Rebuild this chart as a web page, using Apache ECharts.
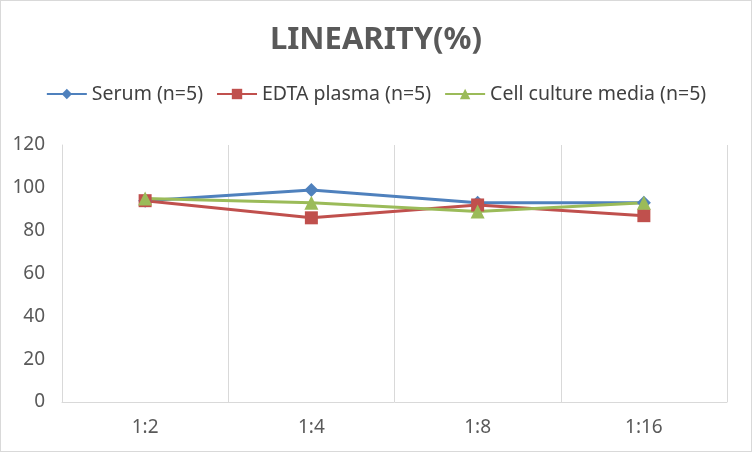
<!DOCTYPE html>
<html><head><meta charset="utf-8">
<script src="https://cdn.jsdelivr.net/npm/echarts@6/dist/echarts.min.js"></script>
<style>html,body{margin:0;padding:0;background:#fff}#c{width:750px;height:450px;border:1px solid #d9d9d9}</style>
</head><body><div id="c"></div>
<script>
var categories = ['1:2', '1:4', '1:8', '1:16'];
var serum = [94, 99, 93, 93];
var edta = [94, 86, 92, 87];
var cellMedia = [95, 93, 89, 93];
var seriesNames = ['Serum (n=5)', 'EDTA plasma (n=5)', 'Cell culture media (n=5)'];
var yTicks = {min: 0, max: 120, interval: 20};

var chart = echarts.init(document.getElementById('c'));
var font = 'Noto Sans';
function mk(name, data, color, symbol, size) {
  return {name: name, type: 'line', data: data, symbol: symbol, symbolSize: size,
    lineStyle: {color: color, width: 3}, itemStyle: {color: color}, z: 3};
}
chart.setOption({
  animation: false,
  title: {text: 'LINEARITY(%)', left: 'center', top: 19,
    textStyle: {fontFamily: font, fontSize: 31, fontWeight: 'bold', color: '#595959'}},
  legend: {top: 78, left: 'center', itemWidth: 40, itemHeight: 13, itemGap: 13,
    textStyle: {fontFamily: font, fontSize: 19.5, color: '#404040'},
    data: seriesNames},
  grid: {left: 61, right: 24, top: 144, bottom: 49, containLabel: false},
  xAxis: {type: 'category', data: categories, boundaryGap: true,
    axisLine: {lineStyle: {color: '#d9d9d9'}}, axisTick: {show: false},
    splitLine: {show: true, lineStyle: {color: '#d9d9d9'}},
    axisLabel: {fontFamily: font, fontSize: 19, color: '#595959', margin: 16}},
  yAxis: {type: 'value', min: yTicks.min, max: yTicks.max, interval: yTicks.interval,
    axisLine: {show: true, lineStyle: {color: '#d9d9d9'}}, axisTick: {show: false},
    splitLine: {show: false},
    axisLabel: {fontFamily: font, fontSize: 19, color: '#595959', margin: 17}},
  series: [
    mk(seriesNames[0], serum, '#4f81bd', 'diamond', 14),
    mk(seriesNames[1], edta, '#c0504d', 'rect', 13),
    mk(seriesNames[2], cellMedia, '#9bbb59', 'triangle', 14)
  ]
});
</script></body></html>
